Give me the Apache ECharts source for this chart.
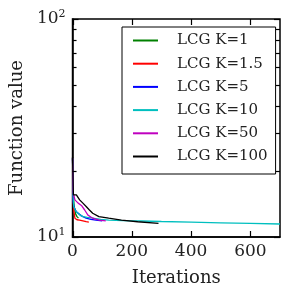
<!DOCTYPE html>
<html>
<head>
<meta charset="utf-8">
<script src="https://cdn.jsdelivr.net/npm/echarts@6/dist/echarts.min.js"></script>
<style>html,body{margin:0;padding:0;background:#fff;}#c{width:291px;height:299px;}</style>
</head>
<body>
<div id="c"></div>
<script>
const seriesNames = ['LCG K=1', 'LCG K=1.5', 'LCG K=5', 'LCG K=10', 'LCG K=50', 'LCG K=100'];
const seriesColors = ['#008000', '#ff0000', '#0000ff', '#00bfbf', '#bf00bf', '#000000'];

const iterK1 = [0, 2, 5, 10, 15, 20];
const valK1 = [23, 16.5, 14, 12.8, 12.4, 12.2];

const iterK15 = [0, 2, 4, 8, 15, 24, 35, 46, 55];
const valK15 = [23, 15, 13.3, 12.2, 12.0, 11.95, 11.85, 11.75, 11.7];

const iterK5 = [0, 2, 6, 13, 19, 30, 46, 62, 79, 100];
const valK5 = [23, 14.5, 13.6, 13.06, 12.85, 12.5, 12.2, 12.05, 11.96, 11.85];

const iterK10 = [0, 2, 4, 8, 13, 22, 35, 50, 68, 95, 122, 170, 233, 300, 400, 500, 600, 700];
const valK10 = [23, 15.3, 13.8, 13.4, 13.06, 12.7, 12.4, 12.3, 12.2, 12.05, 11.96, 11.9, 11.84, 11.78, 11.7, 11.62, 11.55, 11.47];

const iterK50 = [0, 2, 8, 19, 30, 41, 52, 68, 90, 112];
const valK50 = [23, 16, 14.8, 14.3, 13.96, 13.3, 12.6, 12.2, 11.96, 11.85];

const iterK100 = [0, 3, 13, 24, 35, 46, 57, 68, 89, 122, 165, 220, 290];
const valK100 = [23.3, 15.6, 15.6, 14.8, 14.3, 13.8, 13.3, 12.85, 12.4, 12.2, 11.96, 11.75, 11.56];

const xTicks = [0, 200, 400, 600];
const yTicks = [10, 20, 30, 40, 50, 60, 70, 80, 90, 100];
const yLabelTicks = [10, 100];

const iters = [iterK1, iterK15, iterK5, iterK10, iterK50, iterK100];
const vals = [valK1, valK15, valK5, valK10, valK50, valK100];

const FONT = 'DejaVu Serif';
const chart = echarts.init(document.getElementById('c'));

const al = {show: true, onZero: false, lineStyle: {color: '#000', width: 1.5}};

const yMain = {
  type: 'log', logBase: 10, min: 10, max: 100,
  axisLine: al,
  axisTick: {show: false},
  splitLine: {show: false},
  axisLabel: {
    show: true, margin: 7, color: '#000', customValues: yLabelTicks,
    formatter: function (v) {
      const e = Math.round(Math.log10(v));
      return '{a|10}{b|' + e + '}';
    },
    rich: {
      a: {fontFamily: FONT, fontSize: 17, color: '#222', lineHeight: 17},
      b: {fontFamily: FONT, fontSize: 11, color: '#222', padding: [0, 0, 9, 0]}
    }
  },
  name: 'Function value', nameLocation: 'middle', nameGap: 39,
  nameTextStyle: {fontFamily: FONT, fontSize: 18, color: '#222'}
};

const xMain = {
  type: 'value', min: 0, max: 700, interval: 200, position: 'bottom',
  axisLine: al,
  axisTick: {show: false},
  splitLine: {show: false},
  axisLabel: {show: true, margin: 6, color: '#222', fontFamily: FONT, fontSize: 17, customValues: xTicks},
  name: 'Iterations', nameLocation: 'middle', nameGap: 32,
  nameTextStyle: {fontFamily: FONT, fontSize: 18, color: '#222'}
};

const series = seriesNames.map(function (n, i) {
  return {
    name: n, type: 'line',
    data: iters[i].map(function (x, j) { return [x, vals[i][j]]; }),
    showSymbol: false, symbol: 'none',
    lineStyle: {color: seriesColors[i], width: 1.3},
    itemStyle: {color: seriesColors[i]}
  };
});

chart.setOption({
  animation: false,
  grid: {left: 70, right: 11, top: 19, bottom: 62, show: true, borderColor: '#000', borderWidth: 1.5, backgroundColor: 'transparent'},
  xAxis: xMain,
  yAxis: yMain,
  legend: {
    show: true, orient: 'vertical', left: 122, top: 27,
    data: seriesNames.map(function (n) { return {name: n, icon: 'rect'}; }),
    itemWidth: 25, itemHeight: 2, itemGap: 8.2,
    padding: [6, 8, 10, 11],
    borderColor: '#000', borderWidth: 1, backgroundColor: '#fff',
    textStyle: {fontFamily: FONT, fontSize: 15, color: '#222', lineHeight: 15, padding: [0, 0, 0, 14]},
    selectedMode: false,
    z: 10
  },
  series: series
});

// Tick marks on all four sides, positioned through the chart's own scales
const xMin = 0, xMax = 700, yMin = 10, yMax = 100;
const pLB = chart.convertToPixel({gridIndex: 0}, [xMin, yMin]);
const pRT = chart.convertToPixel({gridIndex: 0}, [xMax, yMax]);
const tickEls = [];
const tStyle = {stroke: '#000', lineWidth: 1.2};
yTicks.forEach(function (v) {
  const py = Math.round(chart.convertToPixel({gridIndex: 0}, [xMin, v])[1]) + 0.5;
  const len = (v === yMin || v === yMax) ? 6 : 4;
  tickEls.push({type: 'line', z: 5, shape: {x1: pLB[0], y1: py, x2: pLB[0] + len, y2: py}, style: tStyle});
  tickEls.push({type: 'line', z: 5, shape: {x1: pRT[0], y1: py, x2: pRT[0] - len, y2: py}, style: tStyle});
});
xTicks.forEach(function (v) {
  const px = Math.round(chart.convertToPixel({gridIndex: 0}, [v, yMin])[0]) + 0.5;
  tickEls.push({type: 'line', z: 5, shape: {x1: px, y1: pLB[1], x2: px, y2: pLB[1] - 6}, style: tStyle});
  tickEls.push({type: 'line', z: 5, shape: {x1: px, y1: pRT[1], x2: px, y2: pRT[1] + 6}, style: tStyle});
});
chart.setOption({graphic: {elements: tickEls}});
</script>
</body>
</html>
